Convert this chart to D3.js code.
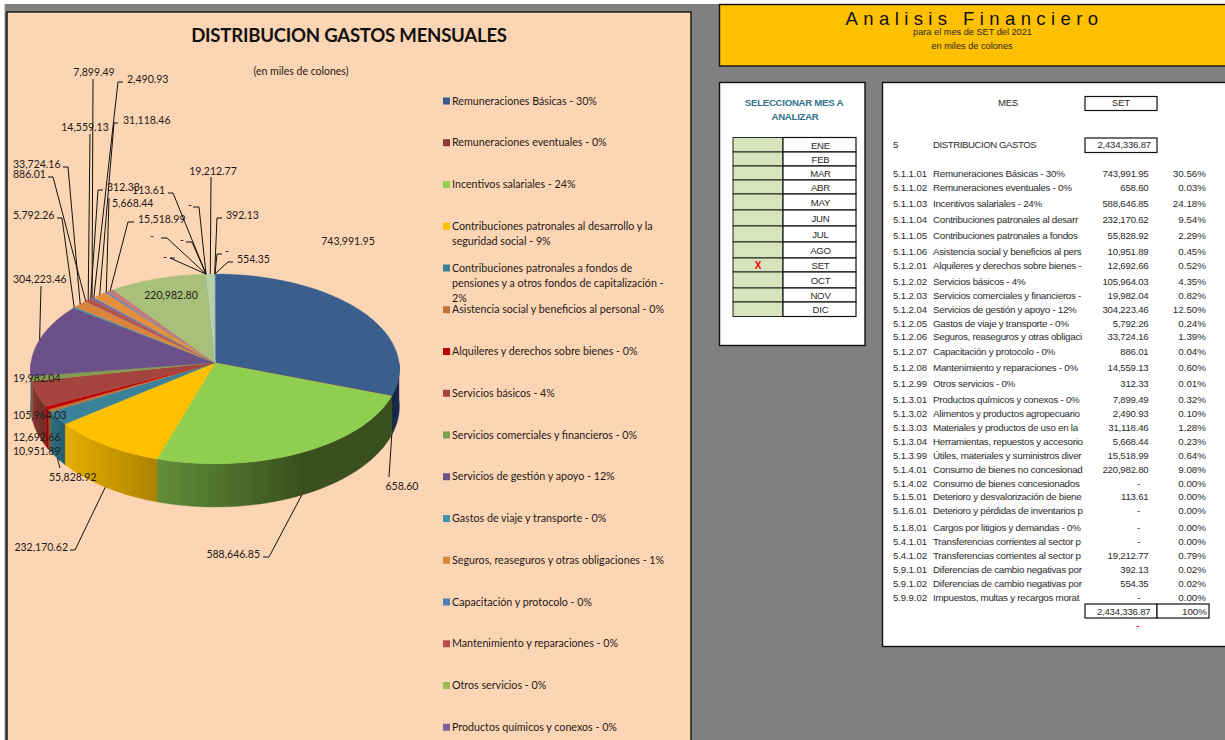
<!DOCTYPE html>
<html><head><meta charset="utf-8">
<script src="https://cdn.jsdelivr.net/npm/d3@7"></script>
<style>
html,body{margin:0;padding:0;background:#fff;overflow:hidden}
svg{display:block}
.cal{font-family:Lato,"Open Sans",sans-serif;fill:#1f1a17}
.ari{font-family:"Liberation Sans",Arial,sans-serif;fill:#2a2a2a}
</style></head><body><svg id="c" width="1225" height="740"></svg>
<script>
// ---------- data ----------
const codes = ["5.1.1.01","5.1.1.02","5.1.1.03","5.1.1.04","5.1.1.05","5.1.1.06","5.1.2.01","5.1.2.02","5.1.2.03","5.1.2.04","5.1.2.05","5.1.2.06","5.1.2.07","5.1.2.08","5.1.2.99","5.1.3.01","5.1.3.02","5.1.3.03","5.1.3.04","5.1.3.99","5.1.4.01","5.1.4.02","5.1.5.01","5.1.6.01","5.1.8.01","5.4.1.01","5.4.1.02","5.9.1.01","5.9.1.02","5.9.9.02"];
const categories = ["Remuneraciones Básicas - 30%","Remuneraciones eventuales - 0%","Incentivos salariales - 24%","Contribuciones patronales al desarrollo y la seguridad social - 9%","Contribuciones patronales a fondos de pensiones y a otros fondos de capitalización - 2%","Asistencia social y beneficios al personal - 0%","Alquileres y derechos sobre bienes - 0%","Servicios básicos - 4%","Servicios comerciales y financieros - 0%","Servicios de gestión y apoyo - 12%","Gastos de viaje y transporte - 0%","Seguros, reaseguros y otras obligaciones - 1%","Capacitación y protocolo - 0%","Mantenimiento y reparaciones - 0%","Otros servicios - 0%","Productos químicos y conexos - 0%","Alimentos y productos agropecuarios - 0%","Materiales y productos de uso en la construcción - 1%","Herramientas, repuestos y accesorios - 0%","Útiles, materiales y suministros diversos - 1%","Consumo de bienes no concesionados - 9%","Consumo de bienes concesionados - 0%","Deterioro y desvalorización de bienes - 0%","Deterioro y pérdidas de inventarios por obsolescencia - 0%","Cargos por litigios y demandas - 0%","Transferencias corrientes al sector público - 0%","Transferencias corrientes al sector privado - 1%","Diferencias de cambio negativas por deudas - 0%","Diferencias de cambio negativas por activos - 0%","Impuestos, multas y recargos moratorios - 0%"];
const values = [743991.95,658.60,588646.85,232170.62,55828.92,10951.89,12692.66,105964.03,19982.04,304223.46,5792.26,33724.16,886.01,14559.13,312.33,7899.49,2490.93,31118.46,5668.44,15518.99,220982.80,0,113.61,0,0,0,19212.77,392.13,554.35,0];
const totalLabel = "2,434,336.87";
const months = ["ENE","FEB","MAR","ABR","MAY","JUN","JUL","AGO","SET","OCT","NOV","DIC"];
const selectedMonth = "SET";

// ---------- styles ----------
const colors = ["#3A5F8C","#8E3A38","#90CE50","#FFC000","#3A8299","#BC723A","#C00000","#A5443F","#7F9F4E","#6B5188","#3F93AE","#D9853D","#4F7FB8","#B64E4B","#9BBB59","#7E62A0","#4BACC6","#E58E3C","#5F86BC","#C27A7A","#A9C07A","#8064A2","#4BACC6","#F79646","#95B3D7","#D99694","#BACFA2","#B3A2C7","#93CDDD","#FAC090"];
const wallRanges = {0:["#16294a","#16294a"],1:["#3a1715","#3a1715"],2:["#618D38","#39501E"],3:["#E6AF00","#AD8200"],4:["#2E6F85","#235A6C"],5:["#8A5228","#8A5228"],6:["#B00000","#900000"],7:["#8A3835","#6E2B28"],8:["#617A3A","#617A3A"],9:["#52406A","#52406A"]};
const legendBreaks = {3:["Contribuciones patronales al desarrollo y la","seguridad social - 9%"],4:["Contribuciones patronales a fondos de","pensiones y a otros fondos de capitalización -","2%"]};

// ---------- hand layout of labels: [anchor, x, y, elbow...] ----------
const labelLayout = {
 0:["middle",348,241],
 1:["middle",402,486,[389,477]],
 2:["end",260,554,[263,557],[269,557]],
 3:["end",68,547,[70,550],[75,550]],
 4:["start",49,477,[60,468]],
 5:["start",13,451],
 6:["start",13,437],
 7:["start",13,415],
 8:["start",13,378],
 9:["start",13,279,[41,286]],
 10:["start",13,215,[57,218],[62,218]],
 11:["start",13,164,[63,167],[68,167]],
 12:["start",13,174,[48,177],[53,177]],
 13:["middle",85,127,[90,134]],
 14:["start",107,187,[103,190],[98,190]],
 15:["middle",94,72,[93,79]],
 16:["start",127,79,[123,82],[118,82]],
 17:["start",123,120,[118,123],[114,123]],
 18:["start",112,203,[109,198]],
 19:["start",138,219,[134,222],[128,222]],
 20:["middle",171,295],
 21:["middle",165,257,[175,258],[170,258]],
 22:["end",165,190,[168,193],[173,193]],
 23:["middle",152,236,[161,238],[167,238]],
 24:["middle",182,240,[186,242],[192,242]],
 25:["middle",190,205,[193,207],[199,207]],
 26:["middle",213,171,[211,177]],
 27:["start",226,215,[222,218],[217,218]],
 28:["start",237,259,[233,262],[228,262]],
 29:["middle",227,251,[222,254],[217,254]]
};
const rowY = [173.5,187.5,203.5,219.5,235.5,251.5,265.5,282,296,310,323.5,337,351.5,367.5,383.5,399.5,413.5,427.5,441.5,455.5,469.5,483.5,497,511,527.5,541.5,555.5,569.5,583.5,597.5];
const monthEdges = [137.5,152,166,180,194,210,226,242,258,272,288,302,316.5];

const svg = d3.select("#c");
const defs = svg.append("defs");
const rect=(x,y,w,h,fill,stroke,sw)=>svg.append("rect").attr("x",x).attr("y",y).attr("width",w).attr("height",h).attr("fill",fill).attr("stroke",stroke||"none").attr("stroke-width",sw||0);
const text=(cls,x,y,s,size,anchor,extra)=>{const t=svg.append("text").attr("class",cls).attr("x",x).attr("y",y).attr("dy",".35em").attr("font-size",size).attr("text-anchor",anchor||"start").text(s);if(extra)extra(t);return t;};
const tight=v=>t=>t.attr("letter-spacing",v);

// ---------- sheet background ----------
rect(0,0,1225,740,"#fff");
rect(4,4,1221,736,"#808080");
rect(4,4,1.2,736,"#c8c8c8");
rect(5.2,12,2,728,"#5c5c5c");
rect(7,12,684,730,"#FCD5B4","#111",1.4);

// ---------- pie ----------
const k=0.065, kd=0.144, depth=37;
const xS=d3.scaleLinear().domain([-1,1]).range([215-184,215+184]);
const yS=d3.scaleLinear().domain([-1,1]).range([362.7-94.5,362.7+94.5]);
const proj=a=>{const d=1+k*Math.cos(a);return [xS(Math.sin(a)/d),yS(-Math.cos(a)/d)];};
const wallDrop=a=>depth/(1+kd*Math.cos(a));
const arcs=d3.pie().sort(null).value(d=>d).startAngle(0).endAngle(2*Math.PI)(values);
const step=Math.PI/240;
const sample=(a0,a1)=>{const n=Math.max(1,Math.ceil((a1-a0)/step));return d3.range(n+1).map(i=>a0+(a1-a0)*i/n);};
const line=d3.line();
const W0=Math.PI/2, W1=Math.PI*1.5;
const pieG=svg.append("g");
arcs.forEach((d,i)=>{
  const a0=Math.max(d.startAngle,W0),a1=Math.min(d.endAngle,W1);
  if(a1<=a0)return;
  const as=sample(a0,a1);
  const top=as.map(proj);
  const bot=as.map(a=>{const p=proj(a);return [p[0],p[1]+wallDrop(a)];}).reverse();
  const r=wallRanges[i]||[colors[i],colors[i]];
  const xs=top.map(p=>p[0]);
  const id="w"+i;
  const g=defs.append("linearGradient").attr("id",id).attr("gradientUnits","userSpaceOnUse")
    .attr("x1",d3.min(xs)).attr("x2",i===2?d3.min(xs)+(d3.max(xs)-d3.min(xs))*0.62:d3.max(xs)).attr("y1",0).attr("y2",0);
  g.append("stop").attr("offset",0).attr("stop-color",r[0]);
  g.append("stop").attr("offset",1).attr("stop-color",r[1]);
  pieG.append("path").attr("d",line(top.concat(bot))+"Z").attr("fill",`url(#${id})`).attr("stroke",`url(#${id})`).attr("stroke-width",.4);
});
arcs.forEach((d,i)=>{
  if(d.endAngle-d.startAngle<=0)return;
  const pts=[[xS(0),yS(0)]].concat(sample(d.startAngle,d.endAngle).map(proj));
  pieG.append("path").attr("d",line(pts)+"Z").attr("fill",colors[i]).attr("stroke",colors[i]).attr("stroke-width",.3);
});

// ---------- data labels and leader lines ----------
const fmt=d3.format(",.2f");
const leaderG=svg.append("g");
const labelG=[];
arcs.forEach((d,i)=>{
  const L=labelLayout[i];
  const mid=(d.startAngle+d.endAngle)/2;
  const p=proj(mid);
  const anchorPt=(mid>W0&&mid<W1)?[p[0],p[1]+wallDrop(mid)]:p;
  if(L.length>3){
    leaderG.append("path").attr("d",line(L.slice(3).concat([anchorPt]))).attr("fill","none").attr("stroke","#111").attr("stroke-width",1);
  }
  labelG.push([L[1],L[2],d.value?fmt(d.value):"-",L[0]]);
});
labelG.forEach(l=>text("cal",l[0],l[1],l[2],10.5,l[3]));

// ---------- chart title ----------
text("cal",349,35,"DISTRIBUCION GASTOS MENSUALES",18.6,"middle",t=>t.attr("font-weight",700).attr("letter-spacing",-.25).style("fill","#111"));
text("cal",301,71,"(en miles de colones)",10.5,"middle");

// ---------- legend ----------
const legY=d3.scaleLinear().domain([0,15]).range([101,727.25]);
categories.slice(0,16).forEach((c,i)=>{
  rect(443,legY(i)-3.5,7,7,colors[i]);
  const lines=legendBreaks[i]||[c];
  lines.forEach((s,j)=>text("cal",452,legY(i)+j*15,s,10.7));
});

// ---------- right header ----------
rect(719.5,4.5,510,61.5,"#FFC000","#111",1.4);
text("ari",974.5,18.5,"Analisis  Financiero",18.5,"middle",t=>t.attr("letter-spacing",5.4).style("fill","#111"));
text("ari",972.5,32,"para el mes de SET del 2021",9.2,"middle");
text("ari",972,46,"en miles de colones",9.2,"middle");

// ---------- month selector ----------
rect(719.5,82.5,145.5,263,"#fff","#111",1.4);
text("ari",794,103,"SELECCIONAR MES A",9.6,"middle",t=>t.attr("font-weight",700).attr("letter-spacing",-.25).style("fill","#31708A"));
text("ari",795,117,"ANALIZAR",9.6,"middle",t=>t.attr("font-weight",700).attr("letter-spacing",-.25).style("fill","#31708A"));
months.forEach((m,i)=>{
  const y0=monthEdges[i],y1=monthEdges[i+1];
  rect(733,y0,50,y1-y0,"#D8E4BC","#111",.9);
  rect(783,y0,73,y1-y0,"#fff","#111",1.2);
  text("ari",820.5,(y0+y1)/2+.5,m,9.6,"middle",tight(-.2));
  if(m===selectedMonth) text("ari",758,(y0+y1)/2+.5,"X",10,"middle",t=>t.attr("font-weight",700).style("fill","#F00000"));
});

// ---------- data table ----------
rect(882.5,82.5,350,564,"#fff","#111",1.4);
text("ari",1008,103,"MES",9.6,"middle",tight(-.3));
rect(1085,96.5,72,14,"#fff","#111",1.2);
text("ari",1121,103,selectedMonth,9.6,"middle",tight(-.2));
text("ari",893,145,"5",9.6);
text("ari",933,145,"DISTRIBUCION GASTOS",9.6,"start",tight(-.42));
rect(1085,138,72,14.5,"#fff","#111",1.2);
text("ari",1151,145,totalLabel,9.6,"end",tight(-.2));
const pct=d3.format(".2%"), total=d3.sum(values);
codes.forEach((c,i)=>{
  const y=rowY[i];
  text("ari",893,y,c,9.6,"start",tight(-.1));
  const n=text("ari",933,y,categories[i],9.8,"start",tight(-.28));
  let s=categories[i];
  while(n.node().getComputedTextLength()>150&&s.length){s=s.slice(0,-1);n.text(s);}
  text("ari",values[i]?1148.5:1140,y,values[i]?fmt(values[i]):"-",9.6,"end",tight(-.2));
  text("ari",1206,y,pct(values[i]/total),9.8,"end");
});
rect(1085,604,72,14,"#fff","#111",1.2);
rect(1157,604,52,14,"#fff","#111",1.2);
text("ari",1150.5,611.5,totalLabel,9.6,"end",tight(-.2));
text("ari",1207,611.5,"100%",9.8,"end");
text("ari",1138,625,"-",10,"middle",t=>t.style("fill","#F00000"));
</script></body></html>
